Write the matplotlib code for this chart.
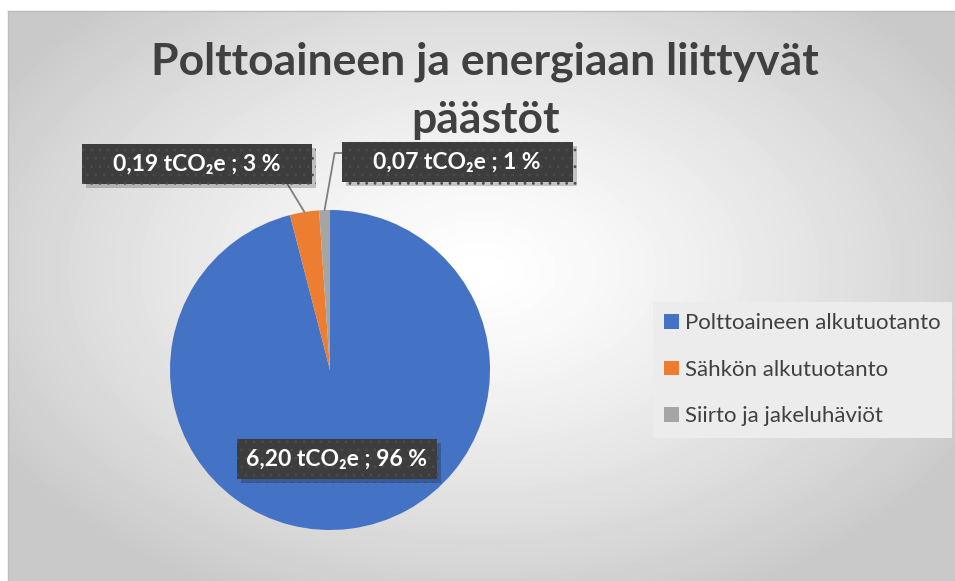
import numpy as np
import matplotlib
matplotlib.use("Agg")
import matplotlib.pyplot as plt
import matplotlib.patheffects as pe

labels = ["Polttoaineen alkutuotanto", "Sähkön alkutuotanto", "Siirto ja jakeluhäviöt"]
values = [6.20, 0.19, 0.07]
percents = [96, 3, 1]
colors = ["#4472c4", "#ed7d31", "#a5a5a5"]
title_lines = ["Polttoaineen ja energiaan liittyvät", "päästöt"]

plt.rcParams["font.family"] = ["Lato", "DejaVu Sans"]
plt.rcParams["hatch.linewidth"] = 0.8

W, H = 955, 581
fig = plt.figure(figsize=(W / 100, H / 100), dpi=100)

# background: white margin + chart area with radial gradient
bg = fig.add_axes([0, 0, 1, 1])
bg.set_xlim(0, W)
bg.set_ylim(H, 0)
bg.axis("off")
yy, xx = np.mgrid[0:H, 0:W]
t = np.sqrt(((xx - 480) / 560.0) ** 2 + ((yy - 270) / 360.0) ** 2)
t = np.clip(t, 0, 1) ** 1.3
img = 1.0 - (1.0 - 0.79) * t
img[:11, :] = 1.0
img[:, :8] = 1.0
bg.imshow(img, cmap="gray", vmin=0, vmax=1, extent=(0, W, H, 0), interpolation="bilinear")
bg.plot([8, W], [11, 11], color="#bdbdbd", lw=1)
bg.plot([8, 8], [11, H], color="#bdbdbd", lw=1)

for line, base in zip(title_lines, [75, 133]):
    fig.text(485 / W, 1 - base / H, line, ha="center", va="baseline",
             fontsize=32, fontweight="bold", color="#404040")

R = 161.0
cx, cy = 330, 370
half = 200
ax = fig.add_axes([(cx - half) / W, (H - cy - half) / H, 2 * half / W, 2 * half / H])
ax.set_xlim(-half / R, half / R)
ax.set_ylim(-half / R, half / R)
ax.set_aspect("equal")
ax.axis("off")

wedges, _ = ax.pie(values, colors=colors, startangle=90, counterclock=False,
                   wedgeprops=dict(linewidth=0))

box_style = dict(boxstyle="square,pad=0.42", facecolor="#3d3d3d",
                 edgecolor="#4a4a4a", linewidth=0, hatch="..")
text_kw = dict(ha="center", va="center", fontsize=16.5, fontweight="bold",
               color="white", family=["Lato", "DejaVu Sans"])

label_pos = [(0.043, -0.556), (-0.832, 1.289), (0.795, 1.301)]
side_pad = ["", "    ", "    "]
texts = []
for i, (w, v, p) in enumerate(zip(wedges, values, percents)):
    s = side_pad[i] + f"{v:.2f}".replace(".", ",") + " tCO\u2082e ; " + f"{p} %" + side_pad[i]
    mid = np.deg2rad((w.theta1 + w.theta2) / 2)
    xy = (np.cos(mid), np.sin(mid))
    if i == 0:
        t_ = ax.text(*label_pos[i], s, bbox=box_style, **text_kw)
    elif i == 1:
        t_ = ax.annotate(s, xy=xy, xytext=label_pos[i], bbox=box_style,
                         arrowprops=dict(arrowstyle="-", color="#7f7f7f", lw=1.3,
                                         shrinkA=0, shrinkB=0, relpos=(0.9, 0)),
                         annotation_clip=False, **text_kw)
    else:
        t_ = ax.annotate(s, xy=xy, xytext=label_pos[i], bbox=box_style,
                         arrowprops=dict(arrowstyle="-", color="#7f7f7f", lw=1.3,
                                         shrinkA=0, shrinkB=0, relpos=(0, 0.92),
                                         connectionstyle="angle,angleA=180,angleB=80,rad=0"),
                         annotation_clip=False, **text_kw)
    t_.set_clip_on(False)
    texts.append(t_)

fig.canvas.draw()
for t_ in texts:
    bp = t_.get_bbox_patch()
    bp.set_path_effects([pe.SimplePatchShadow(offset=(3, -3), shadow_rgbFace="#000000", alpha=0.2),
                         pe.Normal()])

leg = fig.legend(wedges, labels, loc="upper left", bbox_to_anchor=(653 / W, 1 - 302 / H),
                 frameon=True, fancybox=False, facecolor="#ececec", edgecolor="none",
                 framealpha=1, fontsize=16, labelcolor="#404040",
                 handlelength=0.65, handleheight=0.65, handletextpad=0.3,
                 labelspacing=1.2, borderpad=0.5, borderaxespad=0)

fig.savefig("out.png", dpi=100)
